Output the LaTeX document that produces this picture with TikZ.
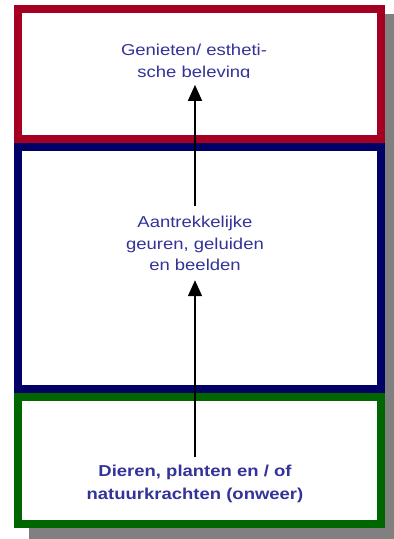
\documentclass[tikz,border=0pt]{standalone}
\usepackage{fontspec}
\newfontfamily\lsans[FakeStretch=1.17]{Liberation Sans}
\usetikzlibrary{arrows.meta}
\definecolor{boxred}{HTML}{A50021}
\definecolor{boxblue}{HTML}{000066}
\definecolor{boxgreen}{HTML}{006600}
\definecolor{txtblue}{HTML}{333399}
\definecolor{shadowgray}{HTML}{808080}
\tikzset{
  frame/.style={line width=7.5pt, fill=white},
  label/.style={text=txtblue, align=center, inner sep=0pt, anchor=north,
    font=\lsans\fontsize{15.8}{21.5}\selectfont},
  arr/.style={line width=1.5pt, -{Triangle[length=16pt,width=14pt]}}
}
\begin{document}
\begin{tikzpicture}[x=1pt,y=-1pt]
\useasboundingbox (0,0) rectangle (394,539);
\fill[shadowgray] (29,14) rectangle (394,539);
\draw[frame, draw=boxred] (18,9) rectangle (381,139);
\draw[frame, draw=boxblue] (18,147) rectangle (381,389);
\draw[frame, draw=boxgreen] (18,397) rectangle (381,524);
\begin{scope}
\clip (22,13) rectangle (377,77.5);
\node[label] (top) at (194,44.2) {Genieten/ estheti-\\sche beleving};
\end{scope}
\node[label] (mid) at (195,216.2) {Aantrekkelijke\\geuren, geluiden\\en beelden};
\node[label, font=\lsans\bfseries\fontsize{15.8}{22.3}\selectfont] (bot) at (195,465.2) {Dieren, planten en / of\\natuurkrachten (onweer)};
\draw[arr, shorten <=8pt, shorten >=9pt] (bot.north) -- (mid.south);
\draw[arr, shorten <=10pt, shorten >=4pt] (mid.north) -- (mid.north |- top.south);
\end{tikzpicture}
\end{document}
